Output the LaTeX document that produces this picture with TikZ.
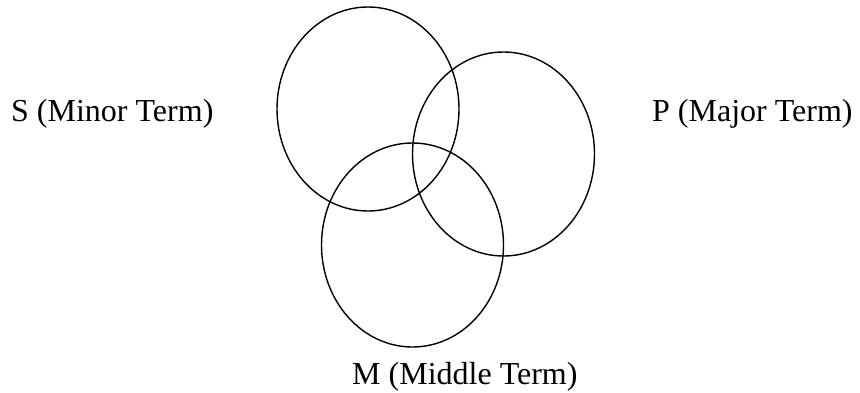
\documentclass[tikz,border=0pt]{standalone}
\usepackage{fontspec}
\setmainfont{Liberation Serif}
\usetikzlibrary{shapes.geometric}

\begin{document}
\begin{tikzpicture}[
    x=1pt, y=-1pt,
    termset/.style={ellipse, draw, line width=1.4pt, minimum width=182pt, minimum height=204pt, inner sep=0pt},
    termtext/.style={anchor=base west, inner sep=0pt, font=\fontsize{32}{38}\selectfont}
]
\useasboundingbox (0,0) rectangle (860,392);

% Sets placed at absolute coordinates
\node[termset] (minor) at (368, 109) {};
\node[termset] (major) at (503.5, 154) {};
\node[termset] (middle) at (412.5, 245) {};

% Term labels
\node[termtext] (minorlabel) at (11, 121.5) {S (Minor Term)};
\node[termtext] (majorlabel) at (652, 121.5) {P (Major Term)};
\node[termtext] (middlelabel) at (352, 384.5) {M (Middle Term)};

\end{tikzpicture}
\end{document}
